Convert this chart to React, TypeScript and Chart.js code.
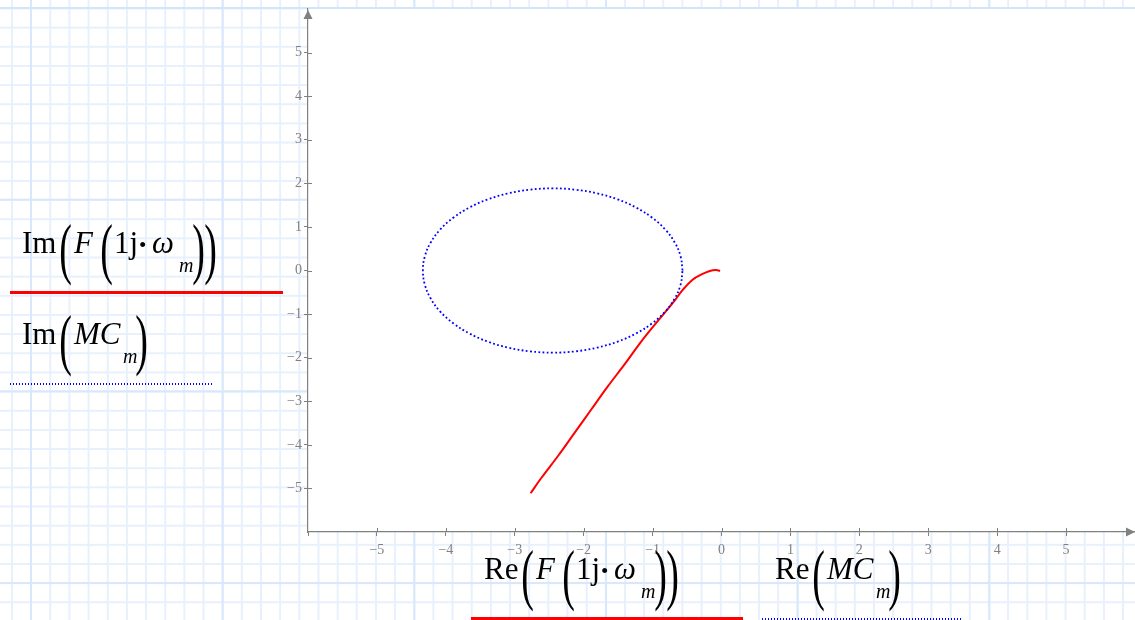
import React, { useEffect, useRef } from "react";
import { Chart, registerables } from "chart.js";

Chart.register(...registerables);

// ---- data ----
const fReal = [-0.02, -0.08, -0.17, -0.29, -0.42, -0.56, -0.68, -0.92, -1.16, -1.41, -1.65, -1.89, -2.13, -2.37, -2.61, -2.77];
const fImag = [-0.01, 0.01, -0.01, -0.09, -0.21, -0.44, -0.69, -1.15, -1.62, -2.16, -2.66, -3.19, -3.72, -4.25, -4.75, -5.11];

const mcReal = [
  -0.565, -0.594, -0.679, -0.817, -1.006, -1.238, -1.507, -1.805, -2.122, -2.449,
  -2.776, -3.093, -3.391, -3.66, -3.892, -4.081, -4.219, -4.304, -4.333, -4.304,
  -4.219, -4.081, -3.892, -3.66, -3.391, -3.093, -2.776, -2.449, -2.122, -1.805,
  -1.507, -1.238, -1.006, -0.817, -0.679, -0.594, -0.565,
];
const mcImag = [
  0, 0.327, 0.644, 0.942, 1.211, 1.443, 1.632, 1.77, 1.855, 1.884,
  1.855, 1.77, 1.632, 1.443, 1.211, 0.942, 0.644, 0.327, 0, -0.327,
  -0.644, -0.942, -1.211, -1.443, -1.632, -1.77, -1.855, -1.884, -1.855, -1.77,
  -1.632, -1.443, -1.211, -0.942, -0.644, -0.327, 0,
];

const tickValues = [-5, -4, -3, -2, -1, 0, 1, 2, 3, 4, 5];
const axisMin = -6;
const axisMax = 6;

const AXIS = "#808080";
const SERIF = '"Liberation Serif", "Times New Roman", serif';

const fmt = (v: number) => (v < 0 ? "\u2212" + Math.abs(v) : String(v));

const axisDecor = {
  id: "axisDecor",
  beforeDraw(chart: any) {
    const { ctx, chartArea: a } = chart;
    ctx.save();
    ctx.fillStyle = "#ffffff";
    ctx.fillRect(a.left, a.top, a.right - a.left, a.bottom - a.top);
    ctx.restore();
  },
  afterDraw(chart: any) {
    const { ctx, chartArea: a, scales } = chart;
    ctx.save();
    ctx.strokeStyle = AXIS;
    ctx.lineWidth = 1;
    tickValues.forEach((v) => {
      const x = Math.round(scales.x.getPixelForValue(v)) + 0.5;
      ctx.beginPath();
      ctx.moveTo(x, a.bottom);
      ctx.lineTo(x, a.bottom - 4);
      ctx.stroke();
      const y = Math.round(scales.y.getPixelForValue(v)) + 0.5;
      ctx.beginPath();
      ctx.moveTo(a.left, y);
      ctx.lineTo(a.left + 4, y);
      ctx.stroke();
    });
    ctx.fillStyle = AXIS;
    ctx.beginPath();
    ctx.moveTo(a.left, a.top + 1);
    ctx.lineTo(a.left - 4.5, a.top + 10);
    ctx.lineTo(a.left + 4.5, a.top + 10);
    ctx.closePath();
    ctx.fill();
    ctx.beginPath();
    ctx.moveTo(a.right, a.bottom);
    ctx.lineTo(a.right - 9, a.bottom - 4.5);
    ctx.lineTo(a.right - 9, a.bottom + 4.5);
    ctx.closePath();
    ctx.fill();
    ctx.restore();
  },
};

function T({ x, b, size, italic, children }: any) {
  return (
    <span
      style={{
        position: "absolute",
        left: x,
        top: b - 0.8375 * size,
        fontSize: size,
        lineHeight: `${size}px`,
        fontStyle: italic ? "italic" : "normal",
        fontFamily: SERIF,
        whiteSpace: "nowrap",
        color: "#000",
      }}
    >
      {children}
    </span>
  );
}

function P({ x, c, ch }: any) {
  const size = 33;
  const s = 2.05;
  const o = 0.5875 * size;
  return (
    <span
      style={{
        position: "absolute",
        left: x,
        top: c - o,
        fontSize: size,
        lineHeight: `${size}px`,
        fontFamily: SERIF,
        color: "#000",
        display: "inline-block",
        transform: `scale(1.15, ${s})`,
        transformOrigin: `50% ${o}px`,
      }}
    >
      {ch}
    </span>
  );
}

function FFormula({ x0, b, prefix }: any) {
  return (
    <>
      <T x={x0} b={b} size={31}>{prefix}</T>
      <P x={x0 + 38} c={b + 2} ch="(" />
      <T x={x0 + 52} b={b} size={31} italic>F</T>
      <P x={x0 + 79} c={b + 2} ch="(" />
      <T x={x0 + 92} b={b} size={31}>1j</T>
      <T x={x0 + 117} b={b} size={21}>•</T>
      <T x={x0 + 130} b={b} size={31} italic>ω</T>
      <T x={x0 + 157} b={b + 19} size={20} italic>m</T>
      <P x={x0 + 171} c={b + 2} ch=")" />
      <P x={x0 + 183} c={b + 2} ch=")" />
    </>
  );
}

function MCFormula({ x0, b, prefix }: any) {
  return (
    <>
      <T x={x0} b={b} size={31}>{prefix}</T>
      <P x={x0 + 38} c={b + 2} ch="(" />
      <T x={x0 + 52} b={b} size={31} italic>MC</T>
      <T x={x0 + 101} b={b + 19} size={20} italic>m</T>
      <P x={x0 + 114} c={b + 2} ch=")" />
    </>
  );
}

const dotted = "repeating-linear-gradient(to right, #0000ff 0px, #0000ff 1.5px, transparent 1.5px, transparent 3px)";

export default function App() {
  const ref = useRef<HTMLCanvasElement | null>(null);

  useEffect(() => {
    if (!ref.current) return;
    const chart = new Chart(ref.current, {
      type: "scatter",
      data: {
        datasets: [
          {
            label: "F",
            data: fReal.map((x, i) => ({ x, y: fImag[i] })),
            showLine: true,
            borderColor: "#ff0000",
            borderWidth: 2,
            pointRadius: 0,
            tension: 0.35,
            fill: false,
            order: 1,
          },
          {
            label: "MC",
            data: mcReal.map((x, i) => ({ x, y: mcImag[i] })),
            showLine: true,
            borderColor: "#0000ff",
            borderWidth: 1.8,
            borderDash: [1.8, 2.4],
            pointRadius: 0,
            tension: 0.4,
            fill: false,
            order: 0,
          },
        ],
      },
      options: {
        animation: false,
        responsive: false,
        devicePixelRatio: 1,
        layout: { padding: { top: 9, right: 0, left: 0, bottom: 0 } },
        plugins: { legend: { display: false }, tooltip: { enabled: false } },
        scales: {
          x: {
            type: "linear",
            min: axisMin,
            max: axisMax,
            afterFit: (s: any) => {
              s.height = 88;
              s.paddingLeft = 0;
              s.paddingRight = 0;
            },
            ticks: {
              stepSize: 1,
              padding: 6,
              color: AXIS,
              font: { family: SERIF, size: 14 },
              callback: (v: any) => (tickValues.includes(Number(v)) ? fmt(Number(v)) : ""),
              maxRotation: 0,
              autoSkip: false,
            },
            grid: {
              drawOnChartArea: false,
              drawTicks: true,
              tickLength: 4,
              color: (c: any) => (c.tick && c.tick.value === axisMax ? "rgba(0,0,0,0)" : AXIS),
            },
            border: { display: true, color: AXIS, width: 1.2 },
          },
          y: {
            type: "linear",
            min: axisMin,
            max: axisMax,
            afterFit: (s: any) => {
              s.width = 308;
              s.paddingTop = 0;
              s.paddingBottom = 0;
            },
            ticks: {
              stepSize: 1,
              padding: 2,
              color: AXIS,
              font: { family: SERIF, size: 14 },
              callback: (v: any) => (tickValues.includes(Number(v)) ? fmt(Number(v)) : ""),
              autoSkip: false,
            },
            grid: {
              drawOnChartArea: false,
              drawTicks: true,
              tickLength: 4,
              color: (c: any) =>
                c.tick && (c.tick.value === axisMax || c.tick.value === axisMin) ? "rgba(0,0,0,0)" : AXIS,
            },
            border: { display: true, color: AXIS, width: 1.2 },
          },
        },
      },
      plugins: [axisDecor],
    } as any);
    return () => chart.destroy();
  }, []);

  return (
    <div
      style={{
        position: "absolute",
        left: 0,
        top: 0,
        width: 1135,
        height: 620,
        overflow: "hidden",
        backgroundColor: "#ffffff",
        backgroundImage: [
          "linear-gradient(to bottom, #d3e5fa 0px, #d3e5fa 2px, transparent 2px)",
          "linear-gradient(to right, #d8e8fb 0px, #d8e8fb 2px, transparent 2px)",
          "linear-gradient(to bottom, #d8e8fb 0px, #d8e8fb 2px, transparent 2px)",
          "linear-gradient(to right, #e7f0fc 0px, #e7f0fc 1.5px, transparent 1.5px)",
          "linear-gradient(to bottom, #e7f0fc 0px, #e7f0fc 1.5px, transparent 1.5px)",
        ].join(","),
        backgroundSize: "100% 620px, 191.7px 100%, 100% 191.7px, 19.17px 100%, 100% 19.17px",
        backgroundPosition: "0 7px, 30px 0, 0 7px, 11px 0, 0 7.5px",
        backgroundRepeat: "no-repeat, repeat, repeat, repeat, repeat",
      }}
    >
      <canvas ref={ref} width={1135} height={620} style={{ position: "absolute", left: 0, top: 0, width: 1135, height: 620 }} />

      <FFormula x0={22} b={253} prefix="Im" />
      <div style={{ position: "absolute", left: 10, top: 291, width: 273, height: 3, background: "#ff0000" }} />

      <MCFormula x0={22} b={344} prefix="Im" />
      <div style={{ position: "absolute", left: 10, top: 383, width: 202, height: 2, background: dotted }} />

      <FFormula x0={484} b={579} prefix="Re" />
      <div style={{ position: "absolute", left: 471, top: 617, width: 272, height: 3, background: "#ff0000" }} />

      <MCFormula x0={775} b={579} prefix="Re" />
      <div style={{ position: "absolute", left: 762, top: 618, width: 201, height: 2, background: dotted }} />
    </div>
  );
}
